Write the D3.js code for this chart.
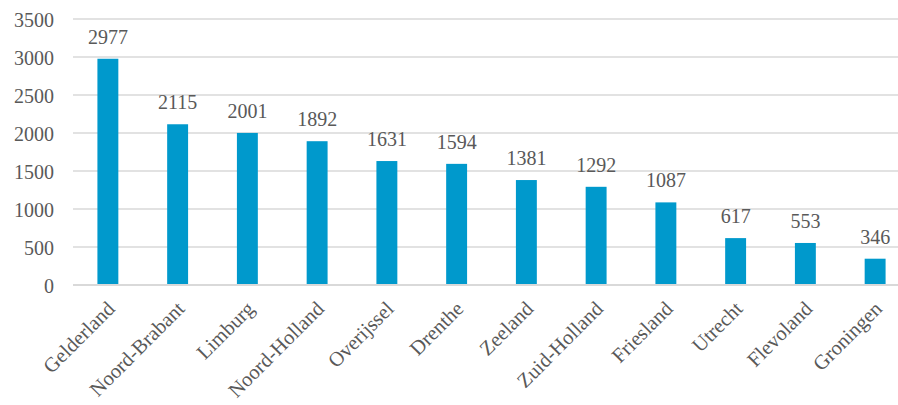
<!DOCTYPE html>
<html>
<head>
<meta charset="utf-8">
<script src="https://cdn.jsdelivr.net/npm/d3@7"></script>
<style>
  html, body { margin: 0; padding: 0; background: #fff; }
  svg { display: block; }
</style>
</head>
<body>
<svg id="chart" width="898" height="405"></svg>
<script>
// Provinces and their values
const provinces = ["Gelderland", "Noord-Brabant", "Limburg", "Noord-Holland", "Overijssel", "Drenthe",
                   "Zeeland", "Zuid-Holland", "Friesland", "Utrecht", "Flevoland", "Groningen"];
const values = [2977, 2115, 2001, 1892, 1631, 1594, 1381, 1292, 1087, 617, 553, 346];
const yTicks = [0, 500, 1000, 1500, 2000, 2500, 3000, 3500];

const FONT = "'Liberation Serif', 'Times New Roman', serif";
const TEXT_COLOR = "#595959";

const svg = d3.select("#chart");
const plot = { left: 73, right: 910, top: 19, bottom: 285 };

const x = d3.scaleBand().domain(provinces).range([plot.left, plot.right]).paddingInner(0.7).paddingOuter(0.35);
const y = d3.scaleLinear().domain([0, 3500]).range([plot.bottom, plot.top]);

// Horizontal gridlines
svg.append("g").selectAll("line").data(yTicks.filter(d => d > 0)).join("line")
  .attr("x1", plot.left).attr("x2", plot.right)
  .attr("y1", d => y(d)).attr("y2", d => y(d))
  .attr("stroke", "#d9d9d9").attr("stroke-width", 1.3);

// Y axis labels
const yAxis = d3.axisLeft(y).tickValues(yTicks).tickSize(0).tickPadding(0).tickFormat(d3.format("d"));
const gy = svg.append("g").attr("transform", `translate(${plot.left - 19},0)`).call(yAxis);
gy.select(".domain").remove();
gy.attr("font-family", null).attr("font-size", null);
gy.selectAll("text")
  .style("font-family", FONT).style("font-size", "20px").style("fill", TEXT_COLOR)
  .attr("dy", "0.35em");

// Bars
svg.append("g").selectAll("rect").data(values).join("rect")
  .attr("x", (d, i) => x(provinces[i]))
  .attr("width", x.bandwidth())
  .attr("y", d => y(d))
  .attr("height", d => y(0) - y(d))
  .attr("fill", "#0099cc");

// Baseline
svg.append("line").attr("x1", plot.left).attr("x2", plot.right)
  .attr("y1", plot.bottom).attr("y2", plot.bottom)
  .attr("stroke", "#d9d9d9").attr("stroke-width", 2);

// Value labels
svg.append("g").selectAll("text").data(values).join("text")
  .attr("x", (d, i) => x(provinces[i]) + x.bandwidth() / 2)
  .attr("y", d => y(d) - 15)
  .attr("text-anchor", "middle")
  .style("font-family", FONT).style("font-size", "20px").style("fill", TEXT_COLOR)
  .text(d => d);

// Category labels, rotated
svg.append("g").selectAll("text").data(provinces).join("text")
  .attr("transform", d => `translate(${x(d) + x.bandwidth() / 2 + 3},${plot.bottom + 20}) rotate(-45)`)
  .attr("text-anchor", "end")
  .attr("dy", "0.35em")
  .style("font-family", FONT).style("font-size", "20.5px").style("fill", TEXT_COLOR)
  .text(d => d);
</script>
</body>
</html>
